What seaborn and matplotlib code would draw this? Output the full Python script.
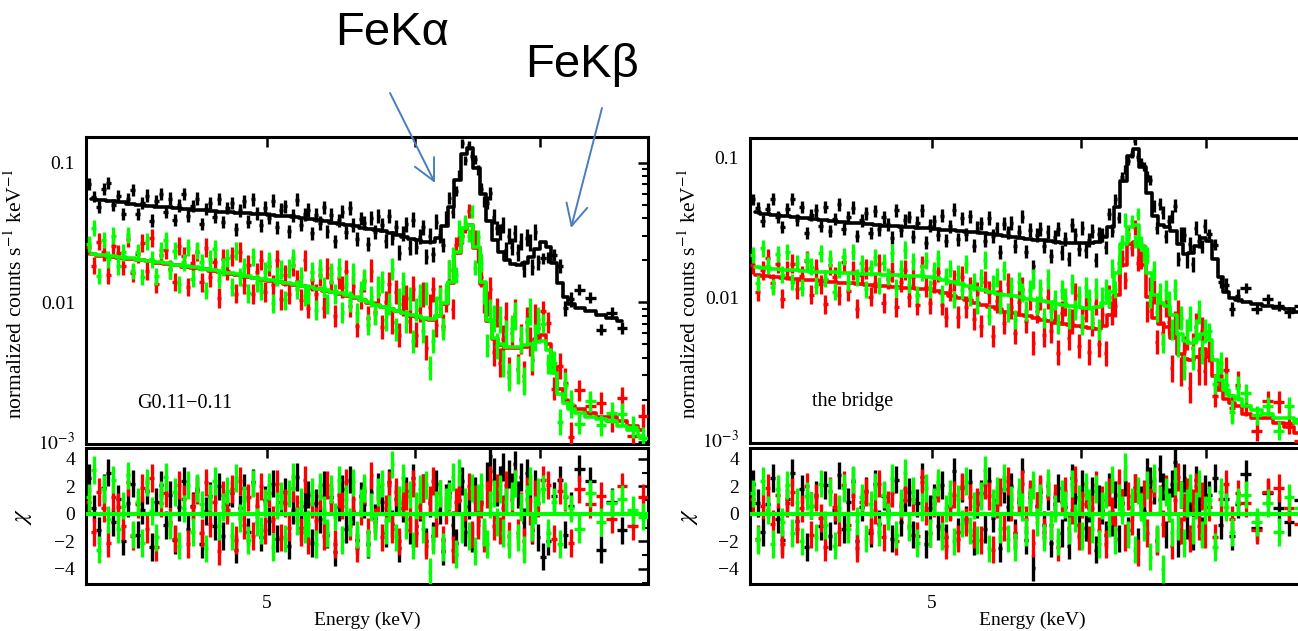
import numpy as np
import pandas as pd
import matplotlib
matplotlib.use("Agg")
import matplotlib.pyplot as plt
from matplotlib.ticker import FixedLocator, FixedFormatter, NullLocator, LogLocator, NullFormatter, MultipleLocator
import seaborn as sns

# ---------------- data ----------------
# model energy bin edges (keV), shared by all spectra
energy_edges = [4.00, 4.05, 4.10, 4.15, 4.20, 4.25, 4.30, 4.35, 4.40, 4.45,
                4.50, 4.55, 4.60, 4.65, 4.70, 4.75, 4.80, 4.85, 4.90, 4.95,
                5.00, 5.05, 5.10, 5.15, 5.20, 5.25, 5.30, 5.35, 5.40, 5.45,
                5.50, 5.55, 5.60, 5.65, 5.70, 5.75, 5.80, 5.85, 5.90, 5.95,
                6.00, 6.05, 6.10, 6.15, 6.20, 6.25, 6.30, 6.35, 6.40, 6.45,
                6.50, 6.55, 6.60, 6.65, 6.70, 6.75, 6.80, 6.85, 6.90, 6.95,
                7.00, 7.05, 7.10, 7.15, 7.20, 7.25, 7.30,
                7.40, 7.50, 7.60, 7.70, 7.80, 7.90, 8.00]
# number of data channels inside each model bin
channels_per_bin = [2] * 60 + [1] * 13

nan = float("nan")

# model (normalized counts s^-1 keV^-1) per model bin
g011_black_model = [0.055, 0.054, 0.053, 0.052, 0.051, 0.050, 0.049, 0.0485, 0.048, 0.047,
                    0.0465, 0.046, 0.0455, 0.045, 0.0445, 0.044, 0.0437, 0.0433, 0.043, 0.0427,
                    0.0423, 0.0418, 0.0412, 0.0406, 0.040, 0.0393, 0.0386, 0.0379, 0.0372, 0.0365,
                    0.0358, 0.035, 0.0343, 0.0336, 0.0329, 0.0322, 0.0315, 0.0305, 0.0295, 0.0285,
                    0.0278, 0.0272, 0.027, 0.029, 0.035, 0.048, 0.075, 0.115, 0.128, 0.092,
                    0.060, 0.038, 0.028, 0.023, 0.0200, 0.0188, 0.0185, 0.019, 0.021, 0.024,
                    0.027, 0.025, 0.019, 0.0138, 0.0108, 0.0097,
                    0.0091, 0.0086, 0.0081, 0.0077, 0.0073, nan, nan]
g011_red_model = [0.0220, 0.0216, 0.0212, 0.0208, 0.0204, 0.0200, 0.0196, 0.0192, 0.0188, 0.0184,
                  0.0180, 0.0176, 0.0172, 0.0168, 0.0164, 0.0160, 0.0156, 0.0152, 0.0148, 0.0145,
                  0.0142, 0.0139, 0.0136, 0.0133, 0.0130, 0.0127, 0.0124, 0.0121, 0.0118, 0.0115,
                  0.0111, 0.0107, 0.0103, 0.0099, 0.0095, 0.0092, 0.0089, 0.0086, 0.0083, 0.0080,
                  0.0078, 0.0076, 0.0075, 0.0079, 0.0097, 0.0138, 0.0225, 0.0335, 0.0355, 0.0245,
                  0.0135, 0.0073, 0.0054, 0.0049, 0.0047, 0.0047, 0.0047, 0.0048, 0.0050, 0.0054,
                  0.0058, 0.0050, 0.0034, 0.0024, 0.0020, 0.0018,
                  0.0017, 0.0016, 0.0015, 0.0015, 0.0014, 0.0013, 0.0012]
g011_green_model = [0.0222, 0.0218, 0.0214, 0.0210, 0.0206, 0.0202, 0.0198, 0.0194, 0.0190, 0.0186,
                    0.0182, 0.0178, 0.0174, 0.0170, 0.0166, 0.0162, 0.0158, 0.0154, 0.0150, 0.0146,
                    0.0143, 0.0140, 0.0137, 0.0134, 0.0131, 0.0128, 0.0125, 0.0122, 0.0119, 0.0116,
                    0.0112, 0.0108, 0.0104, 0.0100, 0.0096, 0.0093, 0.0090, 0.0087, 0.0084, 0.0081,
                    0.0079, 0.0077, 0.0076, 0.0080, 0.0098, 0.0140, 0.0230, 0.0340, 0.0360, 0.0250,
                    0.0140, 0.0075, 0.0055, 0.0050, 0.0048, 0.0048, 0.0048, 0.0049, 0.0050, 0.0052,
                    0.0053, 0.0045, 0.0031, 0.0022, 0.0019, 0.0017,
                    0.0016, 0.0015, 0.00145, 0.0014, 0.0013, 0.0012, 0.0011]

bridge_black_model = [0.0405, 0.0398, 0.0391, 0.0384, 0.0377, 0.0370, 0.0364, 0.0358, 0.0352, 0.0347,
                      0.0342, 0.0338, 0.0334, 0.0330, 0.0327, 0.0324, 0.0321, 0.0318, 0.0315, 0.0312,
                      0.0309, 0.0306, 0.0303, 0.0300, 0.0296, 0.0292, 0.0288, 0.0284, 0.0280, 0.0276,
                      0.0272, 0.0268, 0.0264, 0.0260, 0.0256, 0.0252, 0.0249, 0.0247, 0.0245, 0.0244,
                      0.0244, 0.0245, 0.0250, 0.0270, 0.0320, 0.0440, 0.0680, 0.1020, 0.1150, 0.0850,
                      0.0560, 0.0380, 0.0330, 0.0320, 0.0300, 0.0240, 0.0205, 0.0210, 0.0235, 0.0265,
                      0.0255, 0.0190, 0.0140, 0.0110, 0.0100, 0.0096,
                      0.0093, 0.0090, 0.0087, 0.0085, 0.0083, 0.0080, 0.0078]
bridge_red_model = [0.0145, 0.0143, 0.0141, 0.0139, 0.0137, 0.0135, 0.0133, 0.0131, 0.0130, 0.0128,
                    0.0127, 0.0125, 0.0124, 0.0122, 0.0121, 0.0120, 0.0118, 0.0117, 0.0116, 0.0115,
                    0.0112, 0.0108, 0.0104, 0.0100, 0.0096, 0.0092, 0.0089, 0.0086, 0.0083, 0.0080,
                    0.0078, 0.0076, 0.0074, 0.0072, 0.0070, 0.0068, 0.0066, 0.0065, 0.0064, 0.0063,
                    0.0062, 0.0061, 0.0060, 0.0063, 0.0075, 0.0105, 0.0170, 0.0240, 0.0250, 0.0170,
                    0.0102, 0.0072, 0.0065, 0.0062, 0.0052, 0.0040, 0.0037, 0.0036, 0.0038, 0.0043,
                    0.0038, 0.0028, 0.0022, 0.0019, 0.0018, 0.0017,
                    0.0015, 0.0014, 0.0014, 0.0013, 0.0012, 0.0011, 0.0011]
bridge_green_model = [0.0165, 0.0163, 0.0161, 0.0159, 0.0157, 0.0155, 0.0154, 0.0153, 0.0152, 0.0151,
                      0.0150, 0.0149, 0.0148, 0.0147, 0.0146, 0.0145, 0.0144, 0.0143, 0.0142, 0.0141,
                      0.0138, 0.0134, 0.0130, 0.0126, 0.0122, 0.0118, 0.0114, 0.0110, 0.0107, 0.0105,
                      0.0103, 0.0101, 0.0099, 0.0097, 0.0095, 0.0093, 0.0091, 0.0089, 0.0087, 0.0086,
                      0.0085, 0.0085, 0.0086, 0.0092, 0.0110, 0.0150, 0.0240, 0.0320, 0.0330, 0.0230,
                      0.0150, 0.0105, 0.0092, 0.0087, 0.0075, 0.0055, 0.0049, 0.0048, 0.0051, 0.0055,
                      0.0050, 0.0036, 0.0026, 0.0022, 0.0020, 0.0019,
                      0.0017, 0.0016, 0.0015, 0.0014, 0.0014, 0.0013, 0.0013]

# residuals (chi) per data channel (120 fine channels below 7 keV, 13 wide ones above)
g011_black_chi = [2.6, 0.4, -1.2, 1.9, 3.0, -0.6, 1.1, -2.0, 0.8, 2.2,
                  -1.5, 0.3, 1.7, -2.4, 0.9, 2.1, -0.8, 1.4, -1.9, 0.5,
                  2.4, -1.1, 0.6, 1.8, -2.2, 0.2, 1.3, -0.9, 2.0, -1.6,
                  0.7, 1.5, -2.6, 0.4, 1.9, -1.3, 2.3, 0.1, -1.7, 1.0,
                  -0.5, 2.2, -1.8, 0.9, 1.6, -2.3, 0.3, 2.7, -1.0, 0.6,
                  1.4, -2.1, 0.8, -0.4, 2.1, -1.5, 1.2, -2.8, 0.5, 1.8,
                  -1.1, 2.5, 0.2, -1.9, 1.3, 0.7, -2.2, 1.6, -0.3, 2.0,
                  0.9, -1.4, 2.3, -0.7, 1.1, -2.5, 0.4, 1.7, -1.2, 2.6,
                  -0.9, 0.5, 1.9, -2.0, 0.8, -1.6, 2.2, 0.3, -2.7, 1.2,
                  1.5, -0.8, -2.1, 1.0, 2.4, -1.3, 0.6, -1.8, 1.7, -0.5,
                  0.9, -1.4, 2.8, 4.2, 3.1, 1.6, 2.5, 3.4, 1.2, 2.9,
                  2.0, 3.6, 1.4, 2.7, -0.6, 3.0, 1.8, -1.2, 2.2, -1.7,
                  -3.1, -2.0, 1.3, 2.5, -1.5, 0.6, 3.3, 2.4, -2.6, 0.9, -1.2, nan, nan]
g011_red_chi = [0.9, -1.3, 1.6, 0.4, -2.1, 1.2, 0.5, -0.9, 2.3, -1.6,
                0.7, 1.9, -1.1, 2.6, -2.4, 0.8, 1.5, -0.6, -1.8, 2.1,
                1.1, -2.2, 0.5, 1.7, -1.4, 2.3, -0.7, 0.9, -2.7, 1.4,
                0.3, 1.8, -1.9, 2.4, -0.8, 1.2, -1.6, 0.6, 2.0, -1.2,
                1.5, -0.4, 2.2, -1.7, 0.8, -1.0, 1.9, 0.4, -1.3, 2.5,
                -1.9, 0.7, -0.5, 1.3, -1.6, 2.1, 0.9, -2.2, 1.4, 0.6,
                2.3, -0.9, 1.1, -2.5, 0.2, 1.7, -1.3, 2.8, -0.6, 1.0,
                -1.7, 0.4, 2.1, -1.1, 1.6, -2.0, 0.8, 1.3, -0.4, 2.2,
                -1.4, 0.6, 1.9, -2.3, 1.0, 2.4, -0.7, 1.5, -1.9, 0.3,
                1.2, -2.6, 0.9, 1.8, -1.0, 0.5, 2.0, -1.5, 1.1, -0.8,
                0.7, -1.8, 1.4, 2.5, -0.9, 1.9, -1.2, 0.4, 2.1, -1.6,
                1.0, 2.3, -1.4, 0.6, -2.0, 1.7, 0.2, -1.1, 1.5, 0.8,
                2.5, 2.1, -1.8, 1.7, 1.2, -2.1, 1.8, 0.7, 1.3, -0.4, 2.0, -0.9, 1.2]
g011_green_chi = [1.2, 3.2, -2.6, 1.8, -0.4, 2.5, -1.1, 0.6, 2.8, -1.5,
                  0.9, -2.1, 2.3, 0.2, -1.7, 1.4, 2.7, -0.8, 1.6, -2.3,
                  0.4, 2.1, -1.3, 1.9, 0.7, -2.5, 1.2, 2.4, -0.9, 0.5,
                  1.7, -1.6, 2.6, -0.3, 1.0, -1.9, 2.2, -0.6, -1.2, 0.8,
                  2.0, -2.4, 0.6, 1.3, -1.8, 1.5, 2.7, -0.5, 0.9, -1.1,
                  -0.7, 1.6, -2.2, 2.0, 0.3, -1.4, 1.8, -0.2, 2.5, -1.9,
                  1.1, -0.6, 2.3, -1.5, 0.8, 1.9, -2.1, 0.5, -0.9, 1.6,
                  2.2, -1.2, 0.4, 3.6, -1.7, 1.0, 2.6, -0.8, 1.4, -2.3,
                  0.6, 1.8, -1.1, 2.1, -4.2, -1.9, 0.7, 1.5, -2.4, 0.9,
                  1.3, 2.7, -2.9, 3.0, -1.1, 0.9, -1.6, 1.9, -2.7, 1.2,
                  2.0, -1.3, -2.2, 0.7, 1.5, -0.6, 1.8, -1.4, 0.9, -2.2,
                  1.3, 2.2, -1.7, 0.5, -2.6, 1.1, 2.4, -1.0, 0.3, 1.6,
                  1.8, -1.4, 0.9, -2.2, 1.3, 0.4, -1.1, 1.5, -0.6, 0.8, 1.1, 0.3, -0.2]

bridge_black_chi = [2.2, 0.8, -1.3, 0.7, 2.6, -0.4, -1.9, 1.1, 3.0, -0.5,
                    1.8, -2.4, 0.6, 1.4, -0.9, 2.1, -1.6, 0.3, 2.8, -1.1,
                    0.9, 2.4, -2.0, 0.5, 1.7, -1.4, 2.2, -0.7, 1.3, 0.2,
                    -1.8, 2.5, -0.6, 1.0, 1.6, -1.5, 0.8, 2.7, -2.2, 0.4,
                    1.2, -0.9, 2.1, -1.7, 0.6, 3.1, -1.3, 1.9, -0.4, 2.3,
                    -2.0, 0.7, 1.5, -1.1, 2.4, -0.3, 1.0, -2.5, 1.8, 0.5,
                    2.0, -1.4, 0.9, 3.1, -1.9, 1.2, -3.9, 0.6, 1.6, -0.8,
                    1.3, -2.1, 0.7, 1.9, -1.4, 0.5, -2.3, 2.6, 1.2, -0.8,
                    2.2, -1.0, 0.4, 1.7, -2.6, 1.1, 0.3, -1.5, 2.0, -0.6,
                    1.4, -1.8, 0.8, 2.3, -1.2, 0.5, 1.9, -2.0, 1.0, 0.2,
                    3.1, 2.4, 1.7, -1.9, 3.3, 2.0, -1.5, 0.9, 2.2, 3.8,
                    -2.1, 1.4, 2.6, -0.8, 1.1, -1.6, 2.5, 0.7, -1.2, 1.8,
                    1.4, 2.6, -0.8, 1.1, -1.6, 0.7, 2.9, -1.0, 1.5, 0.4, -0.6, 1.0, 0.3]
bridge_red_chi = [1.1, -1.8, 0.6, 1.9, -0.7, 1.4, -2.2, 0.8, 1.6, -1.1,
                  0.4, 2.0, -1.5, 1.2, -0.3, -2.4, 1.7, 0.5, -1.3, 2.1,
                  -0.8, 1.3, -2.5, 0.9, 1.6, -1.2, 0.3, 2.2, -1.7, 0.7,
                  1.5, -2.0, 0.6, 1.8, -0.9, 1.1, -1.6, 2.3, 0.2, -1.4,
                  0.8, 1.9, -1.1, -2.3, 0.5, 1.4, -1.8, 2.0, -0.6, 1.2,
                  -1.5, 0.9, -1.9, 2.1, 1.3, -2.6, 0.7, 1.6, -1.0, 2.4,
                  0.5, -1.7, 1.1, 2.2, -0.4, 1.5, -2.1, 0.6, 1.8, -1.3,
                  2.0, -0.8, 1.2, -2.4, 0.9, 1.7, -1.0, 0.3, 2.5, -1.6,
                  0.7, 1.4, -1.9, 0.4, 2.1, -1.2, 1.0, -2.2, 1.6, 0.2,
                  -1.1, 2.3, 0.8, -1.7, 1.3, -0.5, 1.9, -2.8, 0.6, 1.5,
                  -1.4, 0.9, 2.2, -2.0, 1.1, -0.7, 1.8, 0.4, -2.3, 1.0,
                  2.7, -1.2, 0.5, 1.6, -1.8, 0.8, 2.0, -0.9, 1.3, -1.5,
                  0.5, -1.7, 1.1, 2.2, -0.4, 1.5, 0.8, -1.2, 1.6, 1.9, 0.4, -0.7, 0.9]
bridge_green_chi = [1.5, -1.9, 2.4, 0.3, -2.2, 1.8, -0.6, 2.1, -1.4, 0.9,
                    -2.0, 1.3, 0.6, -1.7, 2.2, -0.8, 1.6, -2.3, 0.4, 1.9,
                    -1.1, 2.5, -0.5, 1.2, -1.8, 0.7, 2.0, -1.3, 1.4, -0.2,
                    2.6, -1.5, 0.8, 3.0, -1.0, 1.7, -2.1, 0.5, 1.9, -1.4,
                    0.9, 2.3, -1.6, 0.4, 1.5, -2.0, 1.1, -0.7, 2.4, -1.2,
                    0.6, -1.9, 1.3, 3.2, -2.5, 0.8, 1.7, -1.1, 2.6, -1.8,
                    1.0, -2.4, 1.6, 0.5, -1.3, 0.9, 2.1, -0.6, 1.2, -1.7,
                    2.3, -0.9, 0.4, -2.0, 1.5, 0.7, -1.2, 2.2, -0.3, 1.1,
                    -1.6, 2.0, 0.8, -1.1, 1.8, -2.2, 0.6, 1.4, -0.7, 2.5,
                    -1.9, 1.2, 0.3, 3.4, -1.5, 0.9, -2.6, 1.7, 0.5, -1.0,
                    2.1, -3.1, 2.6, -1.8, 1.0, -4.0, 1.6, 0.5, -1.3, 2.4,
                    -0.9, 1.4, -2.1, 0.8, 1.9, -1.2, 0.6, 2.2, -1.5, 0.3,
                    1.0, -2.4, 1.6, 0.5, -1.3, 0.9, 1.4, -0.6, 0.8, -1.3, 1.2, 0.4, -0.8]

# 1-sigma size (dex) of a fine channel at the start of each spectrum
err_dex = {"g011": [0.042, 0.062, 0.058], "bridge": [0.042, 0.066, 0.058]}

panel_labels = {"g011": "G0.11\u22120.11", "bridge": "the bridge"}
series_colors = ["#000000", "#ff0000", "#00ff00"]

# ---------------- style ----------------
sns.set_theme(style="white")
plt.rcParams["font.family"] = ["Liberation Serif", "DejaVu Serif"]
plt.rcParams["mathtext.fontset"] = "stix"
for k in ("text.color", "axes.labelcolor", "xtick.color", "ytick.color", "axes.edgecolor"):
    plt.rcParams[k] = "black"

W, H = 1298, 631
fig = plt.figure(figsize=(W / 100, H / 100), dpi=100)
fig.patch.set_facecolor("white")

edges = np.array(energy_edges)
centers = 0.5 * (edges[1:] + edges[:-1])
widths = np.diff(edges)

# data channel edges: split each model bin into its channels
ch_edges = [edges[0]]
ch_parent = []
for i, n in enumerate(channels_per_bin):
    for k in range(n):
        ch_edges.append(edges[i] + (k + 1) * widths[i] / n)
        ch_parent.append(i)
ch_edges = np.array(ch_edges)
ch_parent = np.array(ch_parent)
ch_centers = 0.5 * (ch_edges[1:] + ch_edges[:-1])
ch_widths = np.diff(ch_edges)


def fr(x0, y_top, x1, y_bot):
    return [x0 / W, 1 - y_bot / H, (x1 - x0) / W, (y_bot - y_top) / H]


panels = {
    "g011": dict(models=[g011_black_model, g011_red_model, g011_green_model],
                 chis=[g011_black_chi, g011_red_chi, g011_green_chi],
                 spec=fr(86, 137, 648, 444), res=fr(86, 448, 648, 584),
                 ylim=(9.6e-4, 0.153), lab=(137, 408), ylab_x=16, chi_x=23),
    "bridge": dict(models=[bridge_black_model, bridge_red_model, bridge_green_model],
                   chis=[bridge_black_chi, bridge_red_chi, bridge_green_chi],
                   spec=fr(750, 138, 1315, 443), res=fr(750, 448, 1315, 584),
                   ylim=(9.3e-4, 0.137), lab=(812, 406), ylab_x=690, chi_x=689),
}

tick_kw = dict(direction="in", top=True, right=True, colors="black")
lw_spine = 2.2
lw_data = 2.4
fs_tick = 14

for key, p in panels.items():
    ax = fig.add_axes(p["spec"])
    axr = fig.add_axes(p["res"])
    for i, (model, chi, col) in enumerate(zip(p["models"], p["chis"], series_colors)):
        m = np.array(model, dtype=float)
        c = np.array(chi, dtype=float)
        assert len(m) == len(centers) and len(c) == len(ch_centers)
        mc = m[ch_parent]
        ok = ~np.isnan(mc) & ~np.isnan(c)
        m0 = m[~np.isnan(m)][0]
        sig = err_dex[key][i] * (m0 / mc) ** 0.35 * np.sqrt(0.025 / ch_widths)
        y = mc * 10 ** (c * sig)
        lo = y - y * 10 ** (-sig)
        hi = y * 10 ** sig - y
        ax.errorbar(ch_centers[ok], y[ok], xerr=ch_widths[ok] / 2, yerr=[lo[ok], hi[ok]],
                    fmt="none", ecolor=col, elinewidth=lw_data, capsize=0, zorder=2 + i)
        mok = ~np.isnan(m)
        dfm = pd.DataFrame({"E": centers[mok], "model": m[mok]})
        sns.lineplot(data=dfm, x="E", y="model", ax=ax, color=col, lw=2.6,
                     drawstyle="steps-mid", estimator=None, sort=False, legend=False, zorder=2 + i)
        axr.errorbar(ch_centers[ok], c[ok], xerr=ch_widths[ok] / 2, yerr=1.0,
                     fmt="none", ecolor=col, elinewidth=lw_data, capsize=0, zorder=2 + i)
    axr.axhline(0, color=series_colors[2], lw=3, zorder=6)

    x0_px = p["spec"][0] * W
    w_px = p["spec"][2] * W

    for a in (ax, axr):
        a.set_xscale("log")
        a.set_xlim(4.0, 8.0)
        a.xaxis.set_major_locator(FixedLocator([5, 6, 7]))
        a.xaxis.set_minor_locator(NullLocator())
        a.set_xlabel("")
        a.set_ylabel("")
        a.set_facecolor("white")
        for s in a.spines.values():
            s.set_visible(True)
            s.set_color("black")
            s.set_linewidth(lw_spine)
        a.tick_params(which="major", length=7, width=1.8, labelsize=fs_tick, pad=8, **tick_kw)
        a.tick_params(which="minor", length=4, width=1.5, **tick_kw)

    ax.xaxis.set_major_formatter(NullFormatter())
    ax.set_yscale("log")
    ax.set_ylim(*p["ylim"])
    ax.yaxis.set_major_locator(FixedLocator([1e-3, 1e-2, 1e-1]))
    ax.yaxis.set_major_formatter(FixedFormatter([r"$10^{-3}$", "0.01", "0.1"]))
    ax.yaxis.set_minor_locator(LogLocator(base=10, subs=np.arange(2, 10)))
    ax.yaxis.set_minor_formatter(NullFormatter())
    ax.set_ylabel(r"normalized counts s$^{-1}$ keV$^{-1}$", fontsize=15.5)
    ax.yaxis.label.set_va("center")
    ax.yaxis.set_label_coords((p["ylab_x"] - x0_px) / w_px, 0.49)

    axr.set_ylim(-5.1, 4.8)
    axr.yaxis.set_major_locator(FixedLocator([-4, -2, 0, 2, 4]))
    axr.yaxis.set_major_formatter(FixedFormatter(["\u22124", "\u22122", "0", "2", "4"]))
    axr.yaxis.set_minor_locator(MultipleLocator(1))
    axr.xaxis.set_major_formatter(FixedFormatter(["5", "", ""]))
    axr.set_ylabel(r"$\chi$", fontsize=18, rotation=90)
    axr.yaxis.label.set_va("center")
    axr.yaxis.set_label_coords((p["chi_x"] - x0_px) / w_px, 0.5)
    axr.set_xlabel("Energy (keV)", fontsize=14)
    axr.xaxis.set_label_coords(0.5, -0.265)
    axr.xaxis.label.set_va("center")

    lx, ly = p["lab"]
    fig.text(lx / W, 1 - ly / H, panel_labels[key], fontsize=14.5, ha="left", va="baseline")

# annotations for the iron lines
sans = ["Liberation Sans", "DejaVu Sans"]
fig.text(335 / W, 1 - 45 / H, "FeK\u03b1", fontsize=34, family=sans, ha="left", va="baseline",
         color="black")
fig.text(525 / W, 1 - 77 / H, "FeK\u03b2", fontsize=34, family=sans, ha="left", va="baseline",
         color="black")
arrow_kw = dict(arrowstyle="->,head_length=0.7,head_width=0.35", color="#4a7ebb", lw=1.4,
                mutation_scale=22, shrinkA=0, shrinkB=0)
ax_top = fig.axes[0]
ax_top.annotate("", xy=(435, H - 183), xytext=(390, H - 93), xycoords="figure pixels",
                textcoords="figure pixels", arrowprops=arrow_kw, annotation_clip=False, zorder=20)
ax_top.annotate("", xy=(571, H - 228), xytext=(602, H - 108), xycoords="figure pixels",
                textcoords="figure pixels", arrowprops=arrow_kw, annotation_clip=False, zorder=20)

fig.savefig("out.png", dpi=100, facecolor="white")
